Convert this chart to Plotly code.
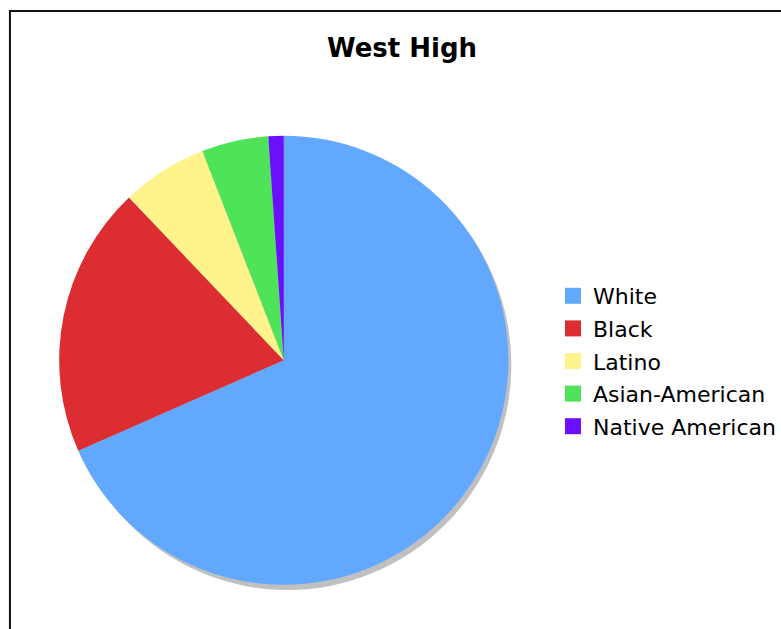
import plotly.graph_objects as go

labels = ["White", "Black", "Latino", "Asian-American", "Native American"]
values = [68.4, 19.5, 6.2, 4.8, 1.1]
colors = ["#63A8FF", "#DC2D32", "#FFF38C", "#4EE358", "#6B10FF"]

W, H = 781, 629

def px(x):
    return x / W

def py(y):
    return (H - y) / H

fig = go.Figure()
fig.add_trace(go.Pie(
    labels=labels, values=values, sort=False, direction="clockwise", rotation=0,
    marker=dict(colors=colors, line=dict(width=0)),
    textinfo="none", hoverinfo="label+percent", showlegend=False,
    domain=dict(x=[px(59.5), px(511)], y=[py(586), py(134.5)]),
))

# legend entries (square swatches) matching the pie slices
for lab, col in zip(labels, colors):
    fig.add_trace(go.Scatter(
        x=[None], y=[None], mode="markers", name=lab, legendgroup=lab,
        marker=dict(symbol="square", size=16, color=col, line=dict(width=0)),
        hoverinfo="skip", showlegend=True,
    ))

fig.update_layout(
    width=W, height=H, margin=dict(l=0, r=0, t=0, b=0),
    paper_bgcolor="white", plot_bgcolor="rgba(0,0,0,0)",
    font=dict(family="DejaVu Sans, Verdana, sans-serif", color="black"),
    xaxis=dict(visible=False), yaxis=dict(visible=False),
    title=dict(text="<b>West High</b>", x=px(402), xanchor="center", y=py(48), yanchor="middle",
               font=dict(size=26, family="DejaVu Sans, Verdana, sans-serif", color="black")),
    legend=dict(x=px(556), y=py(361), yanchor="middle", xanchor="left",
                font=dict(size=22), bgcolor="rgba(0,0,0,0)", itemsizing="trace",
                traceorder="grouped", tracegroupgap=1),
    shapes=[
        dict(type="circle", xref="paper", yref="paper", x0=px(64), x1=px(514), y0=py(590), y1=py(140),
             fillcolor="#C0C0C0", line=dict(width=0), layer="below"),
        dict(type="rect", xref="paper", yref="paper", x0=px(10), x1=1.05, y0=-0.05, y1=py(11),
             line=dict(color="#111111", width=2), fillcolor="rgba(0,0,0,0)", layer="above"),
    ],
)

fig.write_html("out.html")
